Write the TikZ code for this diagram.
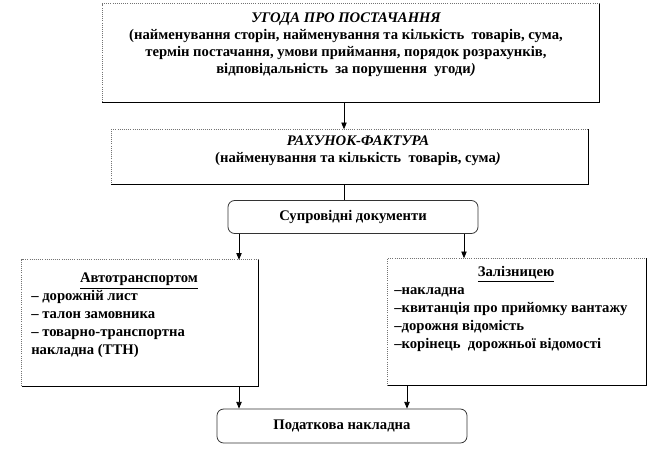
\documentclass[tikz,border=0pt]{standalone}
\usepackage{fontspec}
\setmainfont{Liberation Serif}[BoldFont={Liberation Serif Bold},ItalicFont={Liberation Serif Italic},BoldItalicFont={Liberation Serif Bold Italic}]
\usetikzlibrary{arrows.meta,calc}
\begin{document}
\begin{tikzpicture}[x=0.75pt,y=-0.75pt,
  box/.style={inner sep=0pt,minimum width=#1},
  txt/.style={inner sep=0pt,font=\fontsize{11}{12.75}\selectfont\bfseries,align=center},
  lst/.style={inner sep=0pt,font=\fontsize{11}{13.5}\selectfont\bfseries,align=left},
  rbox/.style={draw=black!80,line width=0.6pt,rounded corners=5pt,inner sep=0pt},
  arr/.style={line width=0.6pt,-{Triangle[length=5pt,width=4pt]}},
  ln/.style={line width=0.6pt}]
\useasboundingbox (0,0) rectangle (672,451);
\newcommand\myshadowbox[1]{%
  \draw[black!55,densely dotted,line width=0.6pt] (#1.south west) |- (#1.north east);
  \draw[black,line width=0.6pt] (#1.north east) |- (#1.south west);}
% boxes
\node[box, minimum width=497*0.75pt, minimum height=98*0.75pt] (b1) at (351,53) {};
\node[box, minimum width=477*0.75pt, minimum height=55*0.75pt] (b2) at (350,157) {};
\node[rbox, minimum width=250*0.75pt, minimum height=33*0.75pt] (b3) at (353,217) {};
\node[box, minimum width=236*0.75pt, minimum height=126*0.75pt] (b4) at (140,323) {};
\node[box, minimum width=258*0.75pt, minimum height=127*0.75pt] (b5) at (517,322) {};
\node[rbox, minimum width=250*0.75pt, minimum height=34*0.75pt] (b6) at (342,426) {};
\myshadowbox{b1}\myshadowbox{b2}\myshadowbox{b4}\myshadowbox{b5}
% texts
\node[txt, anchor=north] (t1) at (346,13) {\itshape УГОДА ПРО ПОСТАЧАННЯ\\
(найменування сторін, найменування та кількість\ \ товарів, сума,\\
термін постачання, умови приймання, порядок розрахунків,\\
відповідальність\ \ за порушення\ \ угоди\itshape)};
\node[txt, anchor=north] (t2) at (358,136) {\itshape РАХУНОК-ФАКТУРА\\
(найменування та кількість\ \ товарів, сума\itshape)};
\node[txt] (t3) at (353,217) {Супровідні документи};
\node[txt] (t6) at (342,426) {Податкова накладна};
\node[txt] (t4h) at (139,281) {\underline{Автотранспортом}};
\node[lst, anchor=north west] (t4) at (31,290) {– дорожній лист\\– талон замовника\\– товарно-транспортна\\накладна (ТТН)};
\node[txt] (t5h) at (516,274) {\underline{Залізницею}};
\node[lst, anchor=north west] (t5) at (394,287) {–накладна\\–квитанція про прийомку вантажу\\–дорожня відомість\\–корінець\ \ дорожньої відомості};
% connectors
\draw[arr] (b1.south -| 344,0) -- (b2.north -| 344,0);
\draw[ln] (b2.south -| 344,0) -- (b3.north -| 344,0);
\draw[arr] (b3.south -| 239,0) -- (b4.north -| 239,0);
\draw[arr] (b3.south -| 464,0) -- (b5.north -| 464,0);
\draw[arr] (b4.south -| 239,0) -- (b6.north -| 239,0);
\draw[arr] (b5.south -| 407,0) -- (b6.north -| 407,0);
\end{tikzpicture}
\end{document}
